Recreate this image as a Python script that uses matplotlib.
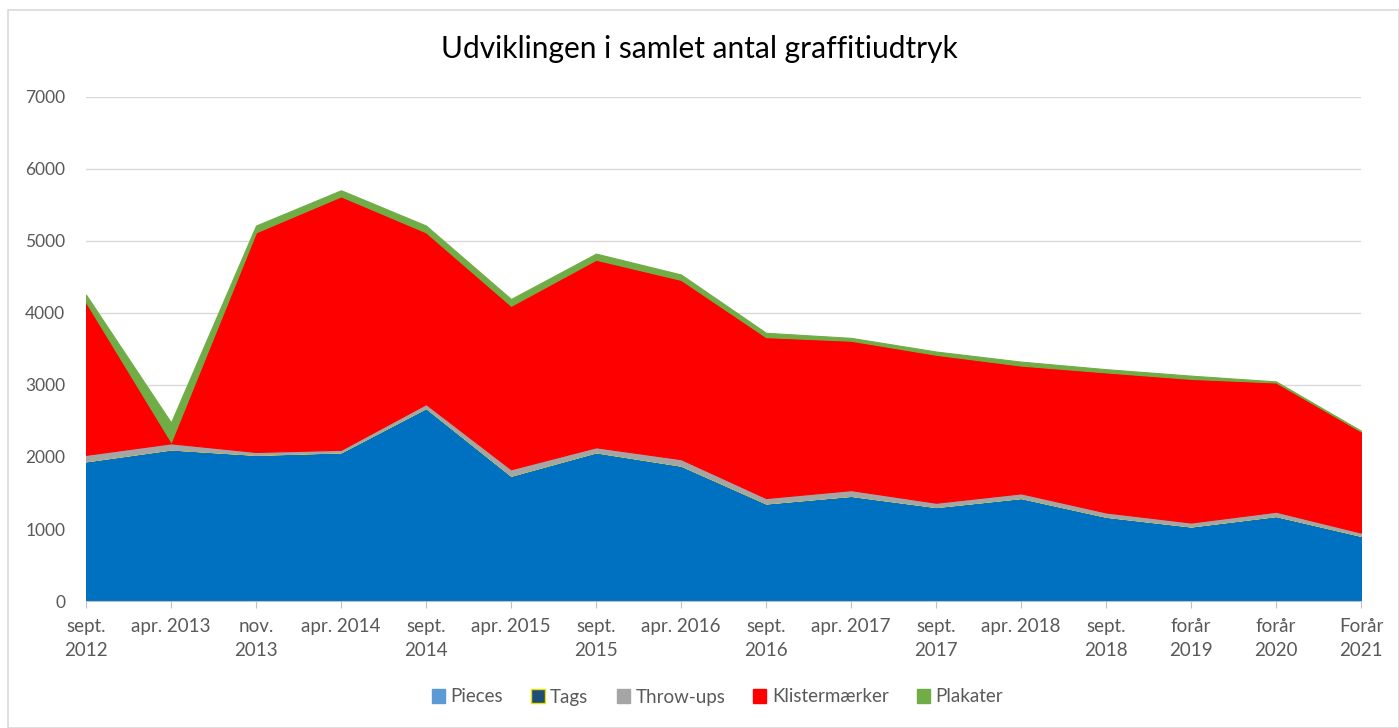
import matplotlib
matplotlib.use("Agg")
import matplotlib.pyplot as plt
from matplotlib.patches import Rectangle, Patch
import numpy as np

categories = ["sept.\n2012", "apr. 2013", "nov.\n2013", "apr. 2014", "sept.\n2014", "apr. 2015",
              "sept.\n2015", "apr. 2016", "sept.\n2016", "apr. 2017", "sept.\n2017", "apr. 2018",
              "sept.\n2018", "forår\n2019", "forår\n2020", "Forår\n2021"]
pieces = [1940, 2105, 2030, 2065, 2680, 1740, 2065, 1880, 1355, 1460, 1305, 1430, 1170, 1035, 1180, 905]
tags = [0, 0, 0, 0, 0, 0, 0, 0, 0, 0, 0, 0, 0, 0, 0, 0]
throwups = [90, 85, 40, 35, 55, 90, 70, 90, 75, 80, 60, 65, 60, 55, 60, 45]
klister = [2120, 20, 3050, 3520, 2385, 2270, 2605, 2490, 2235, 2075, 2055, 1775, 1945, 1995, 1795, 1405]
plakater = [105, 270, 95, 85, 95, 95, 85, 75, 60, 40, 45, 55, 45, 45, 15, 10]
series_names = ["Pieces", "Tags", "Throw-ups", "Klistermærker", "Plakater"]
yticks = [0, 1000, 2000, 3000, 4000, 5000, 6000, 7000]

colors = ["#0070C0", "#1F4E79", "#A5A5A5", "#FF0000", "#70AD47"]
edges = ["#0070C0", "#E8E000", "#A5A5A5", "#FF0000", "#70AD47"]
legend_faces = ["#5B9BD5", "#1F4E79", "#A5A5A5", "#FF0000", "#70AD47"]
legend_edges = ["#5B9BD5", "#E8E000", "#A5A5A5", "#FF0000", "#70AD47"]

plt.rcParams['font.family'] = ['Lato', 'DejaVu Sans']

fig = plt.figure(figsize=(13.99, 7.28), dpi=100)
W, H = 1399, 728
ax = fig.add_axes([86 / W, 1 - 601 / H, (1361 - 86) / W, (601 - 97) / H])

x = np.arange(len(categories))
polys = ax.stackplot(x, pieces, tags, throwups, klister, plakater, colors=colors, labels=series_names)
for p, ec in zip(polys, edges):
    p.set_edgecolor(ec)
    p.set_linewidth(0.8)

ax.set_xlim(0, len(categories) - 1)
ax.set_ylim(0, 7000)
ax.set_yticks(yticks)
ax.set_yticklabels([str(v) for v in yticks])
ax.set_xticks(x)
ax.set_xticklabels(categories, linespacing=1.5)
ax.grid(axis='y', color='#D9D9D9', linewidth=1)
ax.set_axisbelow(True)
for s in ['top', 'right', 'left']:
    ax.spines[s].set_visible(False)
ax.spines['bottom'].set_color('#BFBFBF')
ax.tick_params(axis='y', length=0, pad=15, labelsize=12.5, labelcolor='#595959')
ax.tick_params(axis='x', length=5, color='#BFBFBF', pad=7, labelsize=13.5, labelcolor='#595959')

fig.text(0.5, 1 - 49 / H, "Udviklingen i samlet antal graffitiudtryk", ha='center', va='center',
         fontsize=21.5, color='#000000')

handles = [Patch(facecolor=c, edgecolor=e, linewidth=1) for c, e in zip(legend_faces, legend_edges)]
fig.legend(handles, series_names, loc='center', bbox_to_anchor=(0.513, 1 - 697 / H), ncol=5, frameon=False,
           fontsize=13.5, handlelength=0.7, handleheight=0.7, handletextpad=0.3, columnspacing=1.5,
           labelcolor='#595959')

fig.add_artist(Rectangle((8 / W, 0), (W - 8) / W, 1 - 10 / H, transform=fig.transFigure,
                         fill=False, edgecolor='#D9D9D9', linewidth=1.2))

fig.savefig("out.png", dpi=100, facecolor='white')
